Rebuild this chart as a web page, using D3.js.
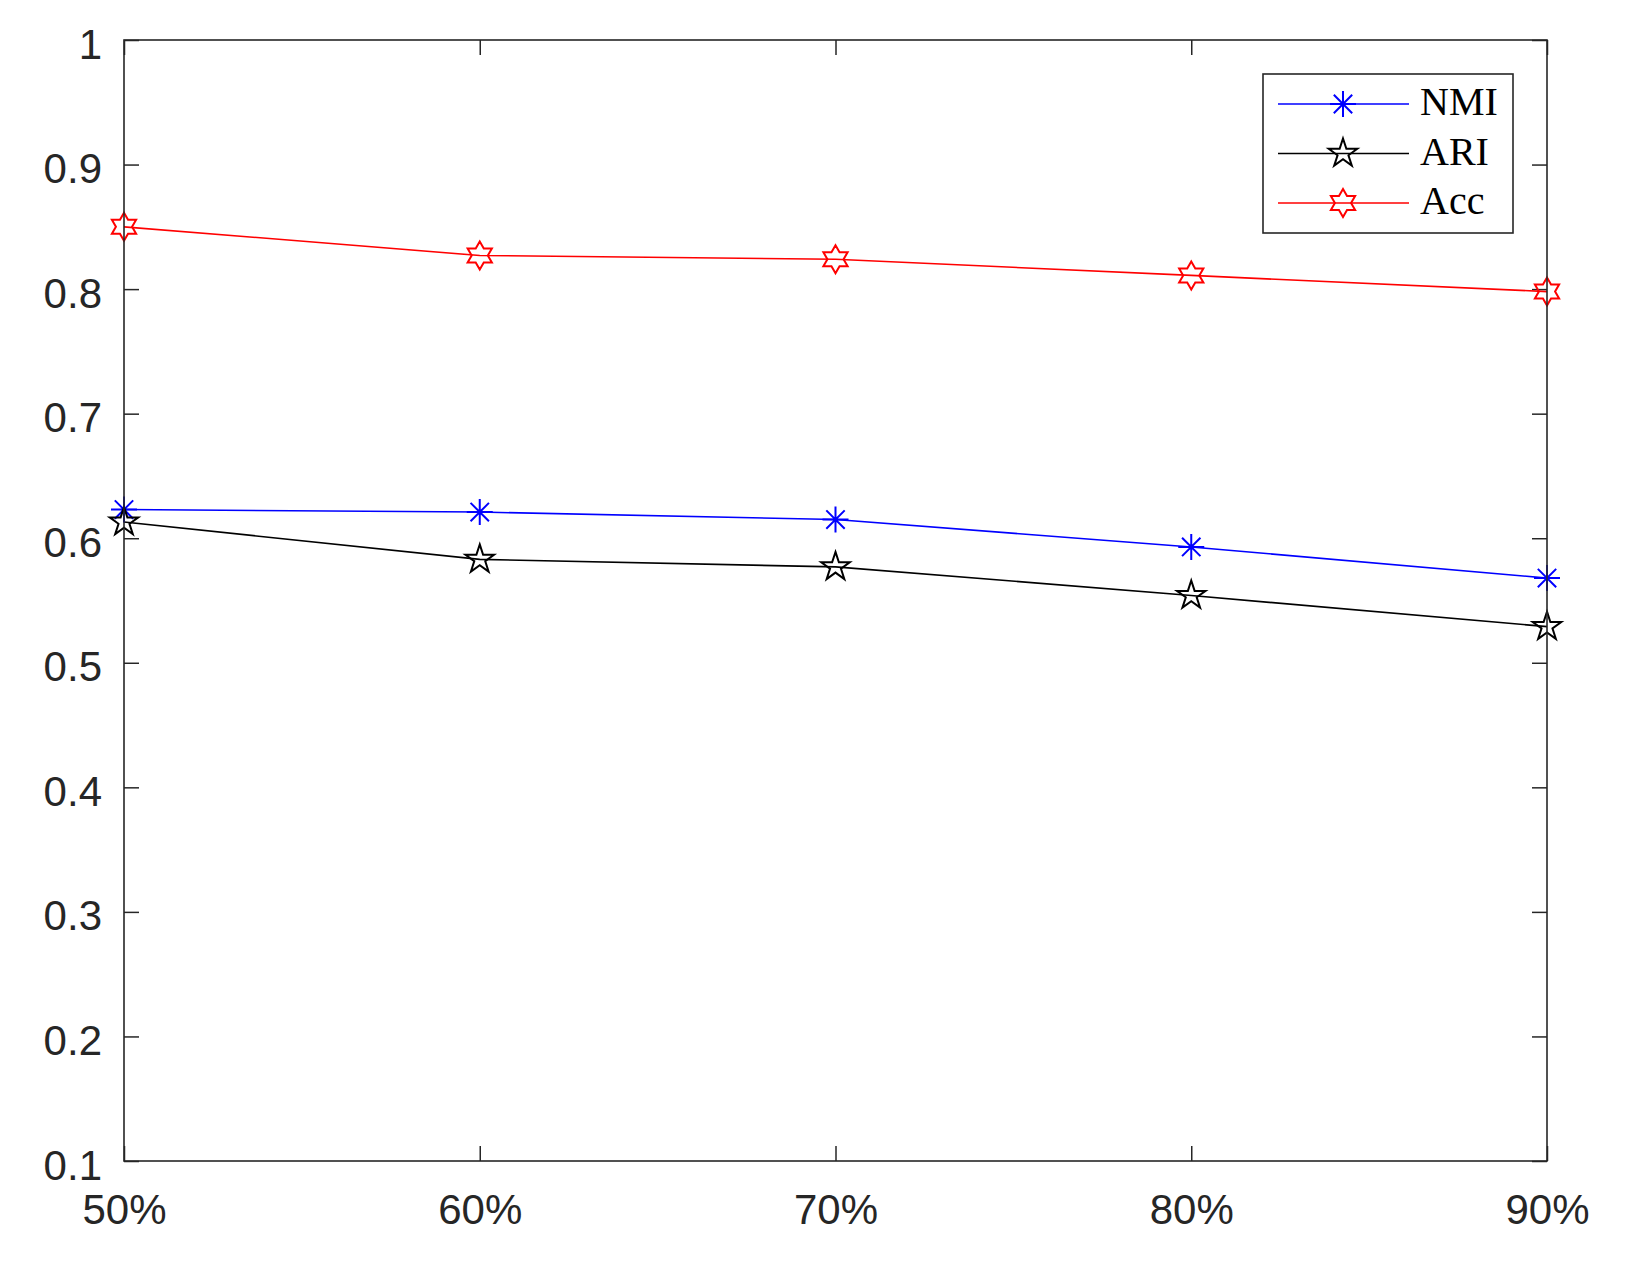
<!DOCTYPE html>
<html>
<head>
<meta charset="utf-8">
<script src="https://cdn.jsdelivr.net/npm/d3@7"></script>
<style>
  html, body { margin: 0; padding: 0; background: #fff; }
  svg { display: block; }
</style>
</head>
<body>
<svg id="chart" width="1632" height="1274"></svg>
<script>
const categories = ["50%", "60%", "70%", "80%", "90%"];
const nmiValues = [0.623, 0.621, 0.615, 0.593, 0.568];
const ariValues = [0.613, 0.583, 0.577, 0.554, 0.529];
const accValues = [0.850, 0.827, 0.824, 0.811, 0.798];
const yTickValues = [0.1, 0.2, 0.3, 0.4, 0.5, 0.6, 0.7, 0.8, 0.9, 1];
const yTickLabels = ["0.1", "0.2", "0.3", "0.4", "0.5", "0.6", "0.7", "0.8", "0.9", "1"];
const seriesNames = ["NMI", "ARI", "Acc"];

(function () {
const axisColor = "#262626";
const pL = 124, pR = 1547, pT = 40, pB = 1161;

const svg = d3.select("#chart");
const x = d3.scalePoint().domain(categories).range([pL, pR]);
const y = d3.scaleLinear().domain([0.1, 1]).range([pB, pT]);

function starPath(n, R, r, rot) {
  const pts = [];
  for (let i = 0; i < 2 * n; i++) {
    const rad = i % 2 === 0 ? R : r;
    const a = rot + i * Math.PI / n;
    pts.push([rad * Math.cos(a), rad * Math.sin(a)]);
  }
  return "M" + pts.map(p => p[0].toFixed(2) + "," + p[1].toFixed(2)).join("L") + "Z";
}
function asteriskPath(R) {
  const d = R * Math.SQRT1_2;
  return `M0,${-R}L0,${R}M${-R},0L${R},0M${-d},${-d}L${d},${d}M${-d},${d}L${d},${-d}`;
}
const hexagram = starPath(6, 14, 14 / Math.sqrt(3), -Math.PI / 2);
const pentagram = starPath(5, 15, 15 * 0.382, -Math.PI / 2);
const asterisk = asteriskPath(13);

const series = [
  { name: seriesNames[0], values: nmiValues, color: "#0000ff", marker: asterisk },
  { name: seriesNames[1], values: ariValues, color: "#000000", marker: pentagram },
  { name: seriesNames[2], values: accValues, color: "#ff0000", marker: hexagram }
];

const tickFont = "'Liberation Sans', Arial, Helvetica, sans-serif";

const gx = svg.append("g").attr("transform", `translate(0,${pB})`)
  .call(d3.axisBottom(x).tickSize(-15).tickPadding(0));
gx.select(".domain").remove();
gx.selectAll(".tick line").attr("stroke", axisColor).attr("stroke-width", 1.5);
gx.selectAll(".tick text").attr("fill", axisColor)
  .style("font-family", tickFont).style("font-size", "42px")
  .attr("y", 63).attr("dy", null);

const gxTop = svg.append("g").attr("transform", `translate(0,${pT})`)
  .call(d3.axisTop(x).tickSize(-15).tickFormat(""));
gxTop.select(".domain").remove();
gxTop.selectAll(".tick line").attr("stroke", axisColor).attr("stroke-width", 1.5);

const gy = svg.append("g").attr("transform", `translate(${pL},0)`)
  .call(d3.axisLeft(y).tickValues(yTickValues).tickSize(-15)
    .tickFormat((d, i) => yTickLabels[i]));
gy.select(".domain").remove();
gy.selectAll(".tick line").attr("stroke", axisColor).attr("stroke-width", 1.5);
gy.selectAll(".tick text").attr("fill", axisColor)
  .style("font-family", tickFont).style("font-size", "42px")
  .attr("x", -22).attr("dy", null).attr("y", 18);

const gyR = svg.append("g").attr("transform", `translate(${pR},0)`)
  .call(d3.axisRight(y).tickValues(yTickValues).tickSize(-15).tickFormat(""));
gyR.select(".domain").remove();
gyR.selectAll(".tick line").attr("stroke", axisColor).attr("stroke-width", 1.5);

const lineGen = d3.line().x((d, i) => x(categories[i])).y(d => y(d));
series.forEach(s => {
  svg.append("path").datum(s.values).attr("d", lineGen)
    .attr("fill", "none").attr("stroke", s.color).attr("stroke-width", 1.6);
});
series.forEach(s => {
  svg.append("g").selectAll("path").data(s.values).join("path")
    .attr("transform", (d, i) => `translate(${x(categories[i])},${y(d)})`)
    .attr("d", s.marker).attr("fill", "none").attr("stroke", s.color)
    .attr("stroke-width", 2).attr("stroke-linejoin", "miter");
});

svg.append("rect").attr("x", pL).attr("y", pT)
  .attr("width", pR - pL).attr("height", pB - pT)
  .attr("fill", "none").attr("stroke", axisColor).attr("stroke-width", 1.6);

const lg = svg.append("g");
lg.append("rect").attr("x", 1263).attr("y", 74).attr("width", 250).attr("height", 159)
  .attr("fill", "#fff").attr("stroke", axisColor).attr("stroke-width", 1.6);
const rowY = [104, 153.5, 203];
series.forEach((s, i) => {
  lg.append("line").attr("x1", 1278).attr("x2", 1409).attr("y1", rowY[i]).attr("y2", rowY[i])
    .attr("stroke", s.color).attr("stroke-width", 1.6);
  lg.append("path").attr("transform", `translate(1343,${rowY[i]})`).attr("d", s.marker)
    .attr("fill", "none").attr("stroke", s.color).attr("stroke-width", 2);
  lg.append("text").attr("x", 1420).attr("y", rowY[i] + 11).text(s.name)
    .attr("fill", "#000")
    .style("font-family", "'Liberation Serif', 'Times New Roman', serif").style("font-size", "40px");
});
})();
</script>
</body>
</html>
